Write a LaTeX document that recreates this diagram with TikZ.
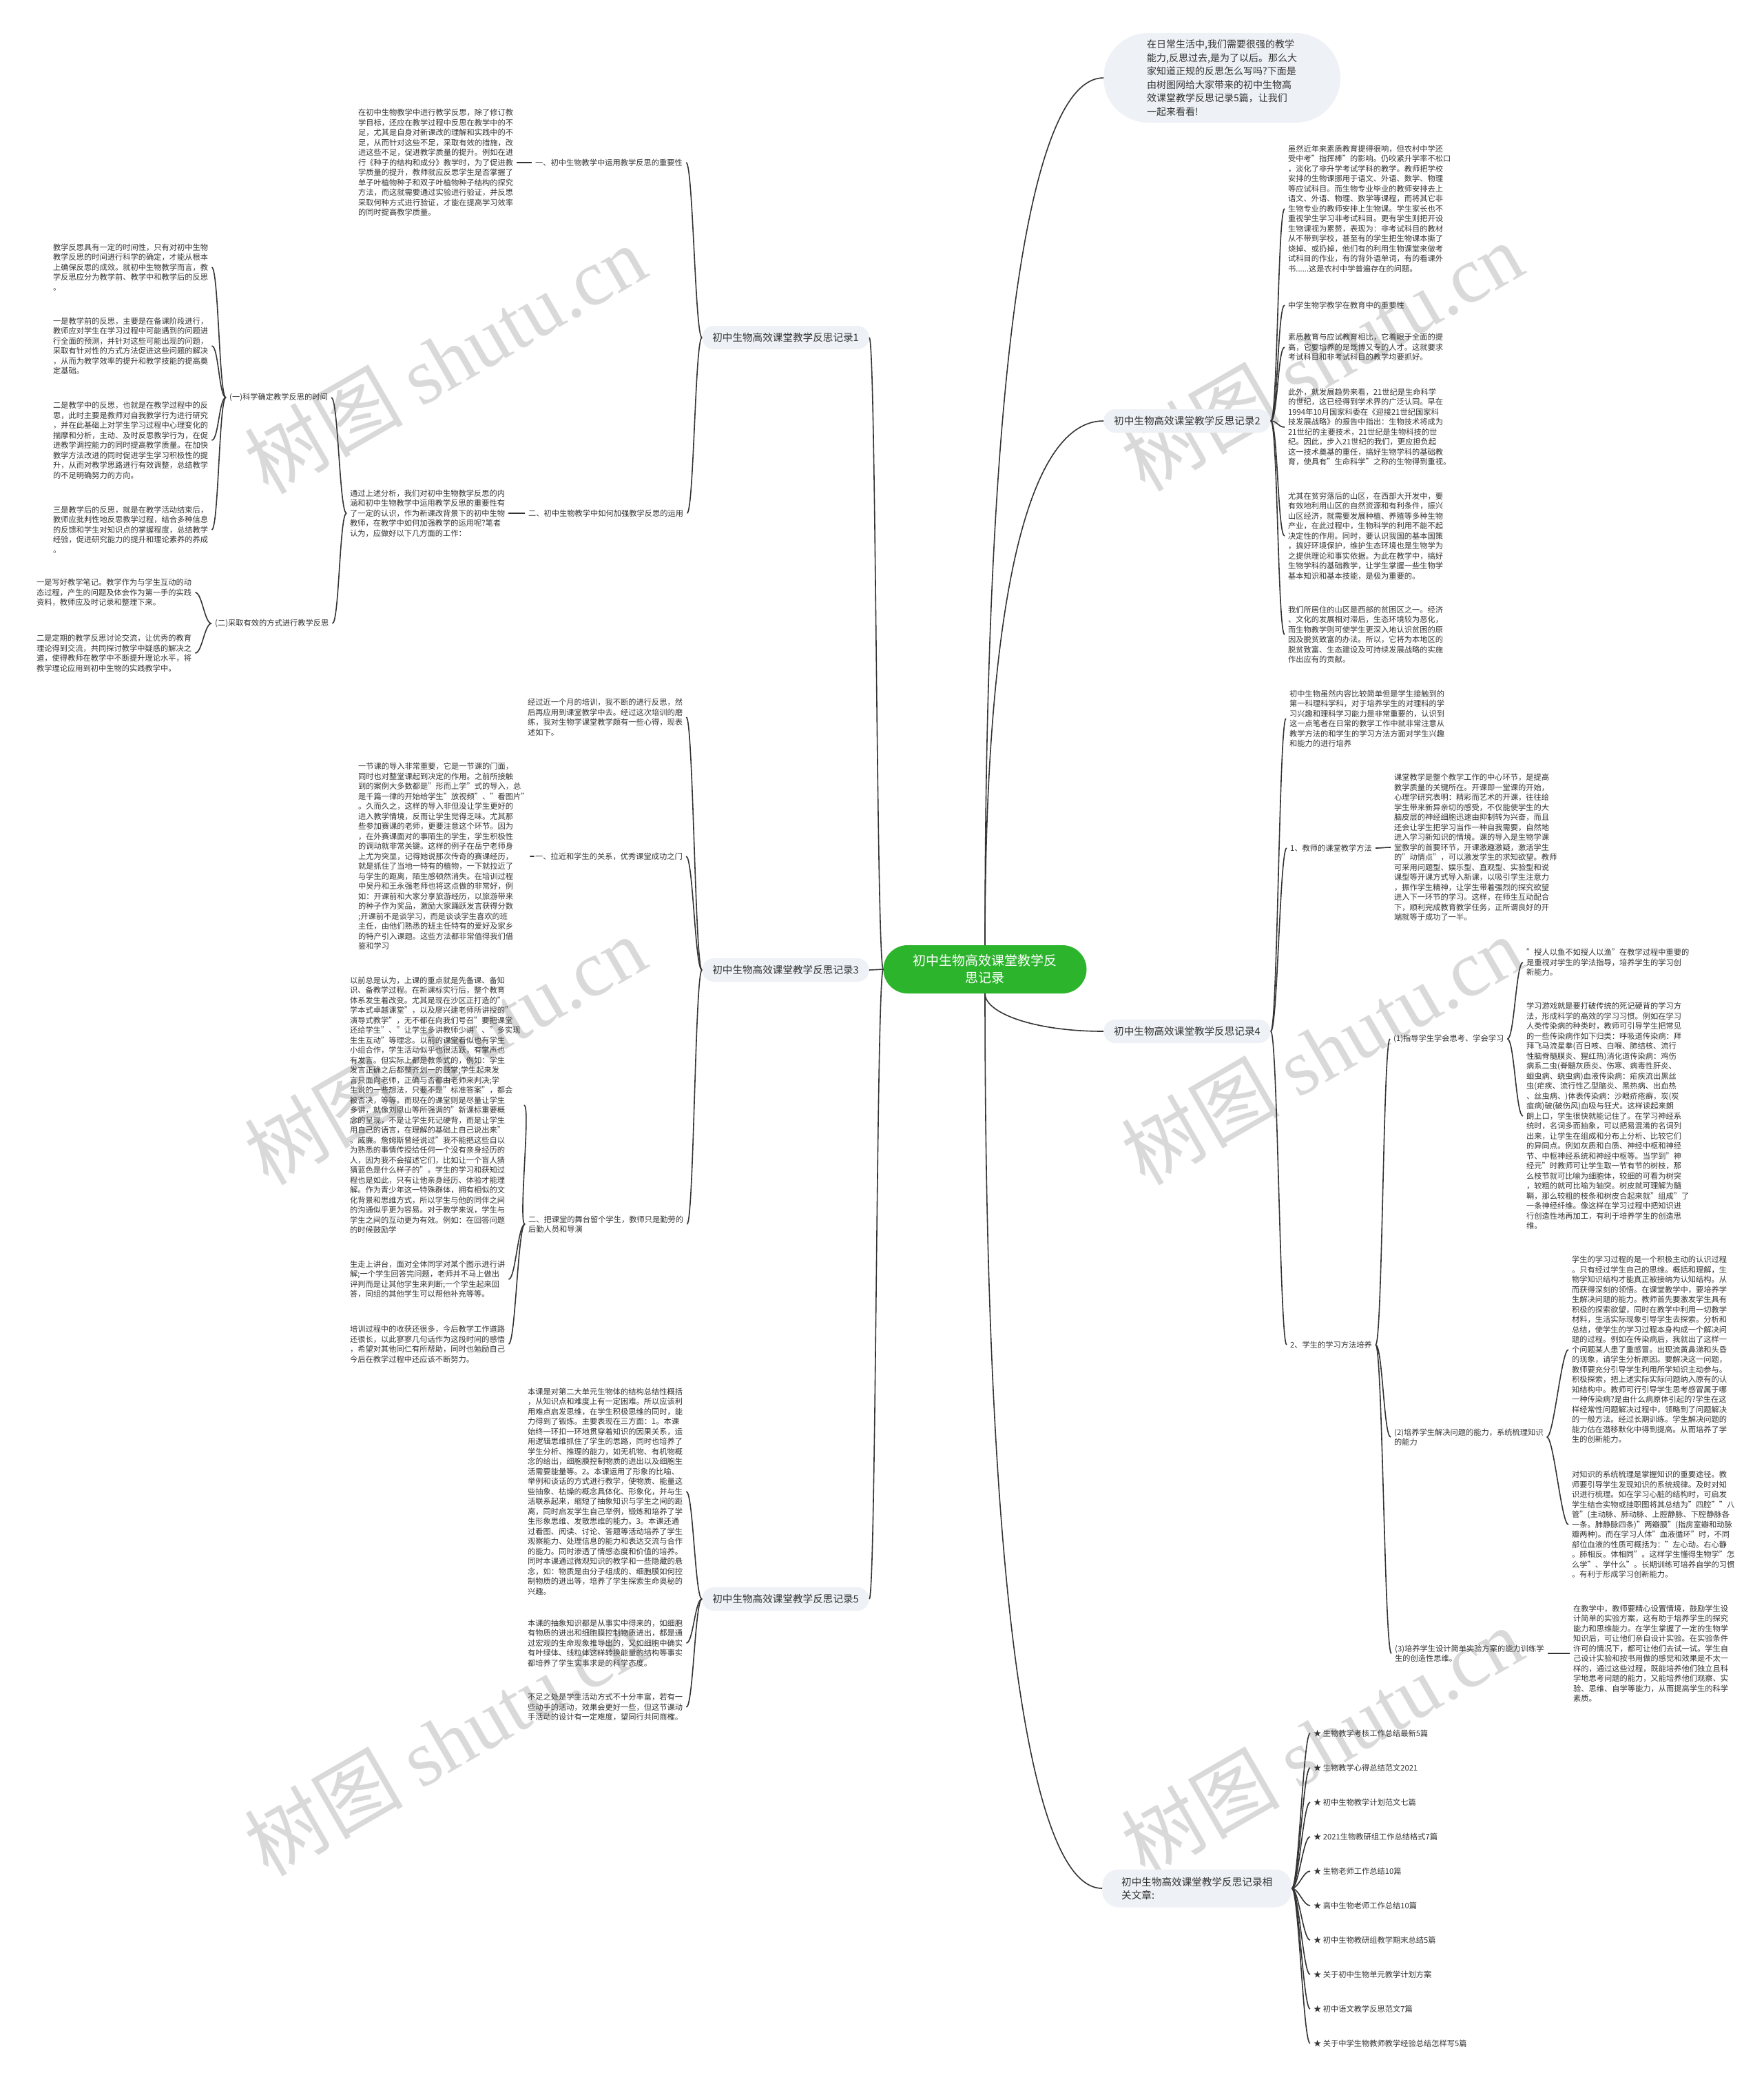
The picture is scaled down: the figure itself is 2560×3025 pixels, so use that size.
\documentclass[tikz,border=0pt]{standalone}
\usepackage{fontspec}
\setmainfont{Noto Sans CJK SC}
\newfontfamily\wmlatin{Liberation Serif}
\usetikzlibrary{calc}
\definecolor{ink}{HTML}{333333}
\definecolor{boxfill}{HTML}{EEF1F5}
\definecolor{rootgreen}{HTML}{2DB42D}
\definecolor{wmgray}{HTML}{D9D9D9}
\tikzset{
  txt/.style={font=\fontsize{11.25}{14.5}\selectfont, align=left, inner xsep=5pt, inner ysep=0pt, anchor=west, text=ink},
  branch/.style={font=\fontsize{14.6}{19}\selectfont, fill=boxfill, rounded corners=17pt, minimum height=34pt, inner xsep=15pt, text=ink, align=left},
  root/.style={font=\fontsize{19}{25}\selectfont, fill=rootgreen, text=white, align=center, rounded corners=35pt, minimum width=295pt, minimum height=70pt, inner sep=0pt},
  link/.style={draw=ink, line width=1.6pt},
  wm/.style={text=wmgray, rotate=30, font=\fontsize{115}{115}\selectfont, inner sep=0pt}
}
\newcommand\linkL[2]{\draw[link] (#1) .. controls +(-10,0) and +(10,0) .. (#2);}
\newcommand\linkR[2]{\draw[link] (#1) .. controls +(10,0) and +(-10,0) .. (#2);}
\begin{document}
\begin{tikzpicture}[x=1pt,y=-1pt]
\useasboundingbox[fill=white] (0,0) rectangle (2560,3025);

% watermarks
\foreach \wx/\wy [count=\k] in {646/521,1919/517,646/1524,1919/1524,646/2527,1919/2527}
  \node[wm] (wm\k) at (\wx,\wy) {树图 {\wmlatin shutu.cn}};

% root and main branches
\node[root] (root) at (1430,1407) {初中生物高效课堂教学反\\思记录};
\node[branch, anchor=east] (b1) at (1262,490) {初中生物高效课堂教学反思记录1};
\node[branch, anchor=east] (b3) at (1262,1408) {初中生物高效课堂教学反思记录3};
\node[branch, anchor=east] (b5) at (1262,2321) {初中生物高效课堂教学反思记录5};
\node[branch, anchor=west, font=\fontsize{14}{19.5}\selectfont, rounded corners=65pt, minimum height=130pt, inner xsep=63pt] (intro) at (1602,113) {在日常生活中,我们需要很强的教学\\能力,反思过去,是为了以后。那么大\\家知道正规的反思怎么写吗?下面是\\由树图网给大家带来的初中生物高\\效课堂教学反思记录5篇，让我们\\一起来看看!};
\node[branch, anchor=west] (b2) at (1602,611) {初中生物高效课堂教学反思记录2};
\node[branch, anchor=west] (b4) at (1602,1497) {初中生物高效课堂教学反思记录4};
\node[branch, anchor=west, rounded corners=24pt, minimum height=55pt, inner xsep=28pt] (rel) at (1600,2741) {初中生物高效课堂教学反思记录相\\关文章:};

\linkL{root.west}{b1.east}
\linkL{root.west}{b3.east}
\linkL{root.west}{b5.east}
\draw[link] (root.north) .. controls (1430,491) and (1500,113) .. (intro.west);
\draw[link] (root.north) .. controls (1430,839) and (1500,611) .. (b2.west);
\draw[link] (root.south) .. controls (1430,1470) and (1500,1497) .. (b4.west);
\draw[link] (root.south) .. controls (1430,2351) and (1500,2741) .. (rel.west);

% record 1
\node[txt] (l1a) at (772,236) {一、初中生物教学中运用教学反思的重要性};
\node[txt] (a1) at (515,236) {在初中生物教学中进行教学反思，除了修订教\\学目标，还应在教学过程中反思在教学中的不\\足，尤其是自身对新课改的理解和实践中的不\\足，从而针对这些不足，采取有效的措施，改\\进这些不足，促进教学质量的提升。例如在进\\行《种子的结构和成分》教学时，为了促进教\\学质量的提升，教师就应反思学生是否掌握了\\单子叶植物种子和双子叶植物种子结构的探究\\方法，而这就需要通过实验进行验证，并反思\\采取何种方式进行验证，才能在提高学习效率\\的同时提高教学质量。};
\node[txt] (l1b) at (762,745) {二、初中生物教学中如何加强教学反思的运用};
\node[txt] (a2) at (503,745) {通过上述分析，我们对初中生物教学反思的内\\涵和初中生物教学中运用教学反思的重要性有\\了一定的认识，作为新课改背景下的初中生物\\教师，在教学中如何加强教学的运用呢?笔者\\认为，应做好以下几方面的工作：};
\node[txt] (s1) at (328,577) {(一)科学确定教学反思的时间};
\node[txt] (s2) at (307,905) {(二)采取有效的方式进行教学反思};
\node[txt] (t11) at (72,388) {教学反思具有一定的时间性，只有对初中生物\\教学反思的时间进行科学的确定，才能从根本\\上确保反思的成效。就初中生物教学而言，教\\学反思应分为教学前、教学中和教学后的反思\\。};
\node[txt] (t12) at (72,502) {一是教学前的反思，主要是在备课阶段进行，\\教师应对学生在学习过程中可能遇到的问题进\\行全面的预测，并针对这些可能出现的问题，\\采取有针对性的方式方法促进这些问题的解决\\，从而为教学效率的提升和教学技能的提高奠\\定基础。};
\node[txt] (t13) at (72,639) {二是教学中的反思，也就是在教学过程中的反\\思，此时主要是教师对自我教学行为进行研究\\，并在此基础上对学生学习过程中心理变化的\\揣摩和分析，主动、及时反思教学行为，在促\\进教学调控能力的同时提高教学质量。在加快\\教学方法改进的同时促进学生学习积极性的提\\升，从而对教学思路进行有效调整，总结教学\\的不足明确努力的方向。};
\node[txt] (t14) at (72,769) {三是教学后的反思，就是在教学活动结束后，\\教师应批判性地反思教学过程，结合多种信息\\的反馈和学生对知识点的掌握程度，总结教学\\经验，促进研究能力的提升和理论素养的养成\\。};
\node[txt] (t21) at (48,860) {一是写好教学笔记。教学作为与学生互动的动\\态过程，产生的问题及体会作为第一手的实践\\资料，教师应及时记录和整理下来。};
\node[txt] (t22) at (48,948) {二是定期的教学反思讨论交流，让优秀的教育\\理论得到交流，共同探讨教学中疑惑的解决之\\道，使得教师在教学中不断提升理论水平，将\\教学理论应用到初中生物的实践教学中。};
\linkL{b1.west}{l1a.east}
\linkL{b1.west}{l1b.east}
\linkL{l1a.west}{a1.east}
\linkL{l1b.west}{a2.east}
\linkL{a2.west}{s1.east}
\linkL{a2.west}{s2.east}
\foreach \n in {t11,t12,t13,t14} {\linkL{s1.west}{\n.east}}
\foreach \n in {t21,t22} {\linkL{s2.west}{\n.east}}

% record 3
\node[txt] (d0) at (761,1041) {经过近一个月的培训，我不断的进行反思，然\\后再应用到课堂教学中去。经过这次培训的磨\\练，我对生物学课堂教学颇有一些心得，现表\\述如下。};
\node[txt] (l3a) at (772,1243) {一、拉近和学生的关系，优秀课堂成功之门};
\node[txt] (d1) at (515,1243) {一节课的导入非常重要，它是一节课的门面，\\同时也对整堂课起到决定的作用。之前所接触\\到的案例大多数都是"形而上学"式的导入，总\\是千篇一律的开始给学生"放视频"、"看图片"\\。久而久之，这样的导入非但没让学生更好的\\进入教学情境，反而让学生觉得乏味。尤其那\\些参加赛课的老师，更要注意这个环节。因为\\，在外赛课面对的事陌生的学生，学生积极性\\的调动就非常关键。这样的例子在岳宁老师身\\上尤为突显，记得她说那次传奇的赛课经历，\\就是抓住了当地一特有的植物，一下就拉近了\\与学生的距离，陌生感顿然消失。在培训过程\\中吴丹和王永强老师也将这点做的非常好，例\\如：开课前和大家分享旅游经历，以旅游带来\\的种子作为奖品，激励大家踊跃发言获得分数\\;开课前不是谈学习，而是谈谈学生喜欢的班\\主任，由他们熟悉的班主任特有的爱好及家乡\\的特产引入课题。这些方法都非常值得我们借\\鉴和学习};
\node[txt] (l3b) at (762,1777) {二、把课堂的舞台留个学生，教师只是勤劳的\\后勤人员和导演};
\node[txt] (d2) at (503,1604) {以前总是认为，上课的重点就是先备课、备知\\识、备教学过程。在新课标实行后，整个教育\\体系发生着改变。尤其是现在沙区正打造的"\\学本式卓越课堂"，以及廖兴建老师所讲授的"\\演导式教学"，无不都在向我们号召"要把课堂\\还给学生"、"让学生多讲教师少讲"、"多实现\\生生互动"等理念。以前的课堂看似也有学生\\小组合作，学生活动似乎也很活跃，有掌声也\\有发言。但实际上都是教条式的，例如：学生\\发言正确之后都整齐划一的鼓掌;学生起来发\\言只面向老师，正确与否都由老师来判决;学\\生说的一些想法，只要不是"标准答案"，都会\\被否决，等等。而现在的课堂则是尽量让学生\\多讲，就像刘恩山等所强调的"新课标重要概\\念的呈现，不是让学生死记硬背，而是让学生\\用自己的语言，在理解的基础上自己说出来"\\。威廉。詹姆斯曾经说过"我不能把这些自以\\为熟悉的事情传授给任何一个没有亲身经历的\\人，因为我不会描述它们，比如让一个盲人猜\\猜蓝色是什么样子的"。学生的学习和获知过\\程也是如此，只有让他亲身经历、体验才能理\\解。作为青少年这一特殊群体，拥有相似的文\\化背景和思维方式，所以学生与他的同伴之间\\的沟通似乎更为容易。对于教学来说，学生与\\学生之间的互动更为有效。例如：在回答问题\\的时候鼓励学};
\node[txt] (d3) at (503,1857) {生走上讲台，面对全体同学对某个图示进行讲\\解;一个学生回答完问题，老师并不马上做出\\评判而是让其他学生来判断;一个学生起来回\\答，同组的其他学生可以帮他补充等等。};
\node[txt] (d4) at (503,1951) {培训过程中的收获还很多，今后教学工作道路\\还很长，以此寥寥几句话作为这段时间的感悟\\，希望对其他同仁有所帮助，同时也勉励自己\\今后在教学过程中还应该不断努力。};
\foreach \n in {d0,l3a,l3b} {\linkL{b3.west}{\n.east}}
\linkL{l3a.west}{d1.east}
\foreach \n in {d2,d3,d4} {\linkL{l3b.west}{\n.east}}

% record 5
\node[txt] (e1) at (761,2165) {本课是对第二大单元生物体的结构总结性概括\\，从知识点和难度上有一定困难。所以应该利\\用难点启发思维，在学生积极思维的同时，能\\力得到了锻炼。主要表现在三方面：1。本课\\始终一环扣一环地贯穿着知识的因果关系，运\\用逻辑思维抓住了学生的思路，同时也培养了\\学生分析、推理的能力，如无机物、有机物概\\念的给出，细胞膜控制物质的进出以及细胞生\\活需要能量等。2。本课运用了形象的比喻、\\举例和谈话的方式进行教学，使物质、能量这\\些抽象、枯燥的概念具体化、形象化，并与生\\活联系起来，缩短了抽象知识与学生之间的距\\离，同时启发学生自己举例，锻炼和培养了学\\生形象思维、发散思维的能力。3。本课还通\\过看图、阅读、讨论、答题等活动培养了学生\\观察能力、处理信息的能力和表达交流与合作\\的能力。同时渗透了情感态度和价值的培养。\\同时本课通过微观知识的教学和一些隐藏的悬\\念，如：物质是由分子组成的、细胞膜如何控\\制物质的进出等，培养了学生探索生命奥秘的\\兴趣。};
\node[txt] (e2) at (761,2385) {本课的抽象知识都是从事实中得来的，如细胞\\有物质的进出和细胞膜控制物质进出，都是通\\过宏观的生命现象推导出的，又如细胞中确实\\有叶绿体、线粒体这样转换能量的结构等事实\\都培养了学生实事求是的科学态度。};
\node[txt] (e3) at (761,2478) {不足之处是学生活动方式不十分丰富，若有一\\些动手的活动，效果会更好一些，但这节课动\\手活动的设计有一定难度，望同行共同商榷。};
\foreach \n in {e1,e2,e3} {\linkL{b5.west}{\n.east}}

% record 2
\node[txt] (f1) at (1865,303) {虽然近年来素质教育提得很响，但农村中学还\\受中考"指挥棒"的影响。仍咬紧升学率不松口\\，淡化了非升学考试学科的教学。教师把学校\\安排的生物课挪用于语文、外语、数学、物理\\等应试科目。而生物专业毕业的教师安排去上\\语文、外语、物理、数学等课程，而将其它非\\生物专业的教师安排上生物课。学生家长也不\\重视学生学习非考试科目。更有学生则把开设\\生物课视为累赘，表现为：非考试科目的教材\\从不带到学校，甚至有的学生把生物课本撕了\\烧掉、或扔掉，他们有的利用生物课堂来做考\\试科目的作业，有的背外语单词，有的看课外\\书......这是农村中学普遍存在的问题。};
\node[txt] (f2) at (1865,443) {中学生物学教学在教育中的重要性};
\node[txt] (f3) at (1865,504) {素质教育与应试教育相比，它着眼于全面的提\\高，它要培养的是既博又专的人才。这就要求\\考试科目和非考试科目的教学均要抓好。};
\node[txt] (f4) at (1865,620) {此外，就发展趋势来看，21世纪是生命科学\\的世纪，这已经得到学术界的广泛认同。早在\\1994年10月国家科委在《迎接21世纪国家科\\技发展战略》的报告中指出：生物技术将成为\\21世纪的主要技术，21世纪是生物科技的世\\纪。因此，步入21世纪的我们，更应担负起\\这一技术奠基的重任，搞好生物学科的基础教\\育，使具有"生命科学"之称的生物得到重视。};
\node[txt] (f5) at (1865,778) {尤其在贫穷落后的山区，在西部大开发中，要\\有效地利用山区的自然资源和有利条件，振兴\\山区经济，就需要发展种植、养殖等多种生物\\产业，在此过程中，生物科学的利用不能不起\\决定性的作用。同时，要认识我国的基本国策\\，搞好环境保护，维护生态环境也是生物学为\\之提供理论和事实依据。为此在教学中，搞好\\生物学科的基础教学，让学生掌握一些生物学\\基本知识和基本技能，是极为重要的。};
\node[txt] (f6) at (1865,921) {我们所居住的山区是西部的贫困区之一。经济\\、文化的发展相对滞后，生态环境较为恶化，\\而生物教学则可使学生更深入地认识贫困的原\\因及脱贫致富的办法。所以，它将为本地区的\\脱贫致富、生态建设及可持续发展战略的实施\\作出应有的贡献。};
\foreach \n in {f1,f2,f3,f4,f5,f6} {\linkR{b2.east}{\n.west}}

% record 4
\node[txt] (g0) at (1867,1043) {初中生物虽然内容比较简单但是学生接触到的\\第一科理科学科，对于培养学生的对理科的学\\习兴趣和理科学习能力是非常重要的，认识到\\这一点笔者在日常的教学工作中就非常注意从\\教学方法的和学生的学习方法方面对学生兴趣\\和能力的进行培养};
\node[txt] (l4a) at (1868,1231) {1、教师的课堂教学方法};
\node[txt] (g1) at (2019,1230) {课堂教学是整个教学工作的中心环节，是提高\\教学质量的关键所在。开课即一堂课的开始，\\心理学研究表明：精彩而艺术的开课，往往给\\学生带来新异亲切的感受，不仅能使学生的大\\脑皮层的神经细胞迅速由抑制转为兴奋，而且\\还会让学生把学习当作一种自我需要，自然地\\进入学习新知识的情境。课的导入是生物学课\\堂教学的首要环节，开课激趣激疑，激活学生\\的"动情点"，可以激发学生的求知欲望。教师\\可采用问题型、娱乐型、直观型、实验型和说\\课型等开课方式导入新课，以吸引学生注意力\\，振作学生精神，让学生带着强烈的探究欲望\\进入下一环节的学习。这样，在师生互动配合\\下，顺利完成教育教学任务，正所谓良好的开\\端就等于成功了一半。};
\node[txt] (l4b) at (1868,1952) {2、学生的学习方法培养};
\node[txt] (s41) at (2018,1508) {(1)指导学生学会思考、学会学习};
\node[txt] (h1) at (2211,1397) {"授人以鱼不如授人以渔"在教学过程中重要的\\是重视对学生的学法指导，培养学生的学习创\\新能力。};
\node[txt] (h2) at (2211,1620) {学习游戏就是要打破传统的死记硬背的学习方\\法，形成科学的高效的学习习惯。例如在学习\\人类传染病的种类时，教师可引导学生把常见\\的一些传染病作如下归类：呼吸道传染病：拜\\拜飞马流星拳(百日咳、白喉、肺结核、流行\\性脑脊髓膜炎、猩红热)消化道传染病：鸡伤\\病系二虫(脊髓灰质炎、伤寒、病毒性肝炎、\\蛔虫病、蛲虫病)血液传染病：疟疾流出黑丝\\虫(疟疾、流行性乙型脑炎、黑热病、出血热\\、丝虫病、)体表传染病：沙眼疥疮癣，炭(炭\\疽病)破(破伤风)血吸与狂犬。这样读起来朗\\朗上口，学生很快就能记住了。在学习神经系\\统时，名词多而抽象，可以把易混淆的名词列\\出来，让学生在组成和分布上分析、比较它们\\的异同点。例如灰质和白质、神经中枢和神经\\节、中枢神经系统和神经中枢等。当学到"神\\经元"时教师可让学生取一节有节的树枝，那\\么枝节就可比喻为细胞体，较细的可看为树突\\，较粗的就可比喻为轴突。树皮就可理解为髓\\鞘，那么较粗的枝条和树皮合起来就"组成"了\\一条神经纤维。像这样在学习过程中把知识进\\行创造性地再加工，有利于培养学生的创造思\\维。};
\node[txt] (s42) at (2019,2086) {(2)培养学生解决问题的能力，系统梳理知识\\的能力};
\node[txt] (i1) at (2277,1959) {学生的学习过程的是一个积极主动的认识过程\\。只有经过学生自己的思维。概括和理解，生\\物学知识结构才能真正被接纳为认知结构。从\\而获得深刻的领悟。在课堂教学中，要培养学\\生解决问题的能力。教师首先要激发学生具有\\积极的探索欲望，同时在教学中利用一切教学\\材料，生活实际现象引导学生去探索。分析和\\总结，使学生的学习过程本身构成一个解决问\\题的过程。例如在传染病后，我就出了这样一\\个问题某人患了重感冒。出现流黄鼻涕和头昏\\的现象，请学生分析原因。要解决这一问题，\\教师要充分引导学生利用所学知识主动参与。\\积极探索，把上述实际实际问题纳入原有的认\\知结构中。教师可行引导学生思考感冒属于哪\\一种传染病?是由什么病原体引起的?学生在这\\样经常性问题解决过程中，领略到了问题解决\\的一般方法。经过长期训练。学生解决问题的\\能力估在潜移默化中得到提高。从而培养了学\\生的创新能力。};
\node[txt] (i2) at (2277,2213) {对知识的系统梳理是掌握知识的重要途径。教\\师要引导学生发现知识的系统规律。及时对知\\识进行梳理。如在学习心脏的结构时，可启发\\学生结合实物或挂职图将其总结为"四腔""八\\管"(主动脉、肺动脉、上腔静脉、下腔静脉各\\一条。肺静脉四条)"两瓣膜"(指房室瓣和动脉\\瓣两种)。而在学习人体"血液循环"时，不同\\部位血液的性质可概括为："左心动。右心静\\。肺相反。体相同"。这样学生懂得生物学"怎\\么学"、学什么"。长期训练可培养自学的习惯\\。有利于形成学习创新能力。};
\node[txt] (s43) at (2020,2400) {(3)培养学生设计简单实验方案的能力训练学\\生的创造性思维。};
\node[txt] (j1) at (2279,2400) {在教学中，教师要精心设置情境，鼓励学生设\\计简单的实验方案，这有助于培养学生的探究\\能力和思维能力。在学生掌握了一定的生物学\\知识后，可让他们亲自设计实验。在实验条件\\许可的情况下，都可让他们去试一试。学生自\\己设计实验和按书用做的感觉和效果是不太一\\样的，通过这些过程，既能培养他们独立且科\\学地思考问题的能力，又能培养他们观察、实\\验、思维、自学等能力，从而提高学生的科学\\素质。};
\foreach \n in {g0,l4a,l4b} {\linkR{b4.east}{\n.west}}
\linkR{l4a.east}{g1.west}
\foreach \n in {s41,s42,s43} {\linkR{l4b.east}{\n.west}}
\foreach \n in {h1,h2} {\linkR{s41.east}{\n.west}}
\foreach \n in {i1,i2} {\linkR{s42.east}{\n.west}}
\linkR{s43.east}{j1.west}

% related articles
\foreach \t [count=\i from 0] in {生物教学考核工作总结最新5篇,生物教学心得总结范文2021,初中生物教学计划范文七篇,2021生物教研组工作总结格式7篇,生物老师工作总结10篇,高中生物老师工作总结10篇,初中生物教研组教学期末总结5篇,关于初中生物单元教学计划方案,初中语文教学反思范文7篇,关于中学生物教师教学经验总结怎样写5篇} {
  \node[txt] (art\i) at (1902,{2516+50*\i}) {★ \t};
  \linkR{rel.east}{art\i.west}
}
\end{tikzpicture}
\end{document}
